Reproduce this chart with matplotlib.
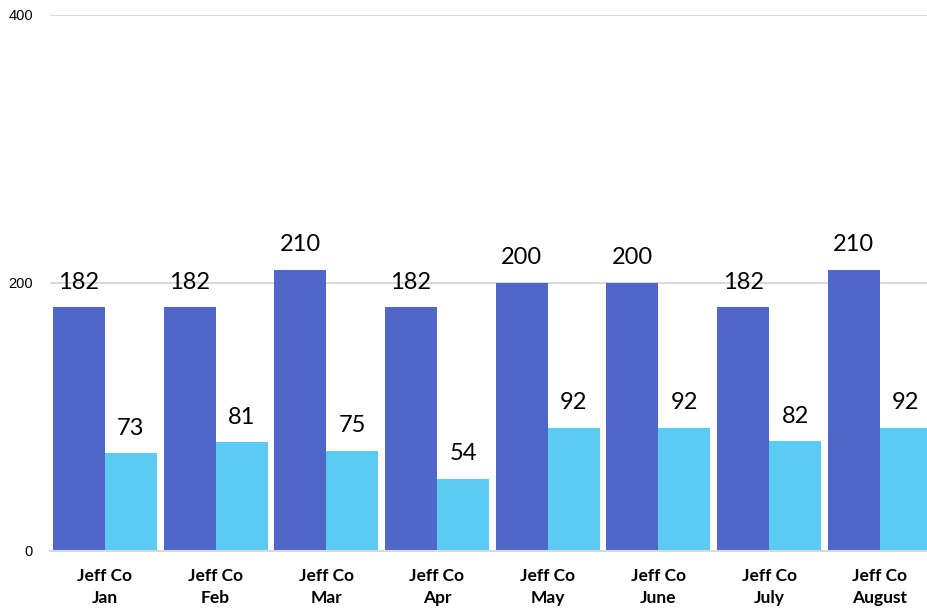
import matplotlib.pyplot as plt
import numpy as np

months = ["Jan", "Feb", "Mar", "Apr", "May", "June", "July", "August"]
series_a = [182, 182, 210, 182, 200, 200, 182, 210]
series_b = [73, 81, 75, 54, 92, 92, 82, 92]

dark = "#4F67C8"
light = "#5BCBF3"

fig = plt.figure(figsize=(9.27, 6.10), dpi=100)
# plot area runs a little past the right edge of the image, as in the original
ax = fig.add_axes([49.5 / 927, 1 - 551 / 610, 885.7 / 927, (551 - 15) / 610])

x = np.arange(len(months))
w = 0.47
bars_a = ax.bar(x - w / 2, series_a, w, color=dark, zorder=3)
bars_b = ax.bar(x + w / 2, series_b, w, color=light, zorder=3)

# value labels above each bar
for bars, vals in [(bars_a, series_a), (bars_b, series_b)]:
    for b, v in zip(bars, vals):
        ax.annotate(str(v), (b.get_x() + b.get_width() / 2, v),
                    xytext=(0, 25), textcoords="offset pixels",
                    ha="center", va="center", fontsize=17, family="Lato")

ax.set_xlim(-0.5, len(months) - 0.5)
ax.set_ylim(0, 400)
ax.set_yticks([0, 200, 400])
ax.yaxis.grid(True, color="#D9D9D9", linewidth=1.5, zorder=0)
ax.set_xticks(x)
ax.set_xticklabels(["Jeff Co\n" + m for m in months], fontsize=12.5,
                   fontweight="bold", family="Lato", linespacing=1.45)
ax.tick_params(axis="y", length=0, pad=12, labelsize=10.5)
for t in ax.get_yticklabels():
    t.set_family("Liberation Sans")
ax.tick_params(axis="x", length=0, pad=12)
for s in ["top", "right", "left"]:
    ax.spines[s].set_visible(False)
ax.spines["bottom"].set_color("#D9D9D9")
ax.spines["bottom"].set_linewidth(1.5)
ax.spines["bottom"].set_zorder(4)

fig.savefig("out.png", dpi=100)
